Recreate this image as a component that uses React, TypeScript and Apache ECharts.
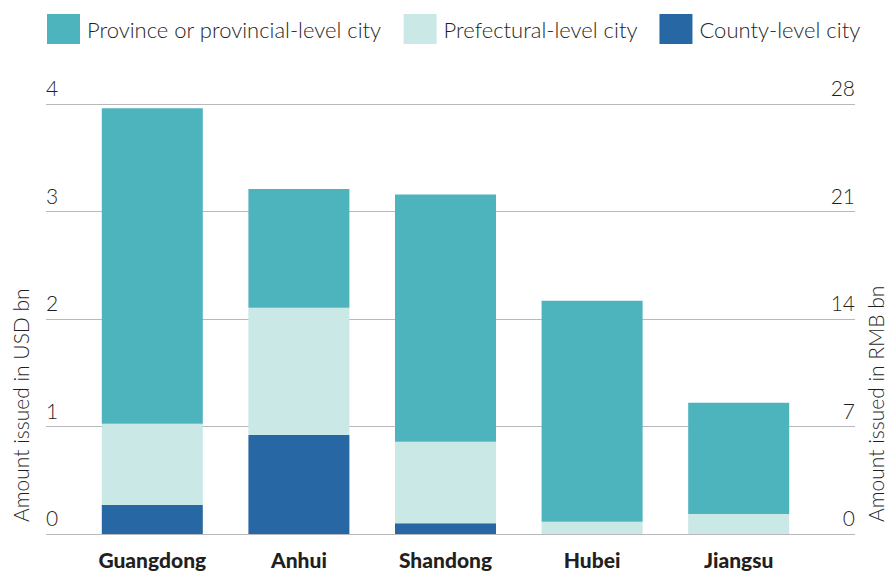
import React, { useEffect, useRef } from "react";
import * as echarts from "echarts";

const categories = ["Guangdong", "Anhui", "Shandong", "Hubei", "Jiangsu"];
const countyLevel = [0.27, 0.92, 0.1, 0, 0];
const prefecturalLevel = [0.755, 1.185, 0.757, 0.115, 0.186];
const provinceLevel = [2.935, 1.105, 2.3, 2.055, 1.034];
const seriesNames = ["Province or provincial-level city", "Prefectural-level city", "County-level city"];
const colors = ["#4db3bd", "#c9e8e6", "#2767a3"];

const FONT = "Lato, 'Open Sans', sans-serif";
const TEXT = "#1f1f1f";

export default function App() {
  const ref = useRef<HTMLDivElement>(null);
  useEffect(() => {
    if (!ref.current) return;
    const chart = echarts.init(ref.current, null, { renderer: "svg" });
    const option: any = {
      animation: false,
      textStyle: { fontFamily: FONT },
      legend: {
        data: seriesNames,
        left: 42,
        top: 9,
        itemWidth: 33,
        itemHeight: 30,
        itemGap: 22,
        icon: "rect",
        textStyle: { fontSize: 22, fontWeight: 300, color: TEXT, fontFamily: FONT, padding: [0, 0, 0, 2] },
      },
      grid: [
        { left: 46, right: 32, top: 104, bottom: 37 },
        { left: 79, right: 75, top: 104, bottom: 37 },
      ],
      xAxis: [
        { gridIndex: 0, type: "value", show: false, min: 0, max: 1 },
        {
          gridIndex: 1,
          type: "category",
          data: categories,
          axisLine: { show: false },
          axisTick: { show: false },
          axisLabel: { fontSize: 21, fontWeight: 900, color: "#231f20", margin: 15, fontFamily: FONT },
        },
      ],
      yAxis: [
        {
          gridIndex: 0,
          type: "value",
          min: 0,
          max: 4,
          interval: 1,
          position: "left",
          axisLine: { show: false },
          axisTick: { show: false },
          splitLine: { lineStyle: { color: "#b9b9bd", width: 1 } },
          axisLabel: {
            inside: true,
            margin: 0,
            verticalAlign: "bottom",
            padding: [0, 0, 6, 0],
            fontSize: 21,
            fontWeight: 300,
            color: TEXT,
            fontFamily: FONT,
          },
        },
        {
          gridIndex: 0,
          type: "value",
          min: 0,
          max: 28,
          interval: 7,
          position: "right",
          axisLine: { show: false },
          axisTick: { show: false },
          splitLine: { show: false },
          axisLabel: {
            inside: true,
            margin: 0,
            verticalAlign: "bottom",
            padding: [0, 0, 6, 0],
            fontSize: 21,
            fontWeight: 300,
            color: TEXT,
            fontFamily: FONT,
          },
        },
        { gridIndex: 1, type: "value", min: 0, max: 4, show: false },
      ],
      series: [
        {
          name: seriesNames[2],
          type: "bar",
          stack: "total",
          xAxisIndex: 1,
          yAxisIndex: 2,
          barWidth: 101,
          data: countyLevel,
          itemStyle: { color: colors[2] },
        },
        {
          name: seriesNames[1],
          type: "bar",
          stack: "total",
          xAxisIndex: 1,
          yAxisIndex: 2,
          barWidth: 101,
          data: prefecturalLevel,
          itemStyle: { color: colors[1] },
        },
        {
          name: seriesNames[0],
          type: "bar",
          stack: "total",
          xAxisIndex: 1,
          yAxisIndex: 2,
          barWidth: 101,
          data: provinceLevel,
          itemStyle: { color: colors[0] },
        },
      ],
      graphic: [
        {
          type: "text",
          x: 20,
          y: 522,
          rotation: Math.PI / 2,
          style: {
            text: "Amount issued in USD bn",
            fontSize: 21,
            fontWeight: 300,
            fill: TEXT,
            fontFamily: FONT,
            textAlign: "left",
            textVerticalAlign: "middle",
          },
        },
        {
          type: "text",
          x: 875,
          y: 522,
          rotation: Math.PI / 2,
          style: {
            text: "Amount issued in RMB bn",
            fontSize: 21,
            fontWeight: 300,
            fill: TEXT,
            fontFamily: FONT,
            textAlign: "left",
            textVerticalAlign: "middle",
          },
        },
      ],
    };
    chart.setOption(option);
    return () => chart.dispose();
  }, []);
  return <div ref={ref} style={{ width: 887, height: 571, position: "absolute", left: 0, top: 0 }} />;
}
